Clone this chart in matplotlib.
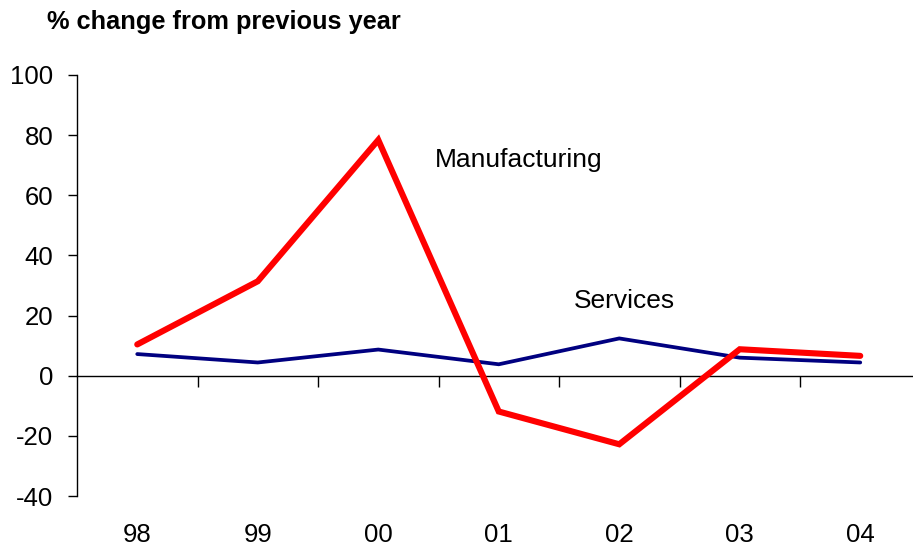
import matplotlib
matplotlib.use("Agg")
import matplotlib.pyplot as plt

plt.rcParams["font.family"] = ["Liberation Sans", "DejaVu Sans"]
plt.rcParams["axes.unicode_minus"] = False

years = ["98", "99", "00", "01", "02", "03", "04"]
manufacturing = [10.4, 31.4, 78.4, -11.9, -22.8, 8.8, 6.6]
services = [7.2, 4.4, 8.7, 3.8, 12.4, 6.0, 4.4]

fig = plt.figure(figsize=(9.13, 5.48), dpi=100)
ax = fig.add_axes([77 / 913, 52 / 548, 843.5 / 913, 421 / 548])

x = list(range(len(years)))
ax.plot(x, manufacturing, color="#ff0000", lw=4.4, solid_capstyle="round",
        solid_joinstyle="miter", zorder=3)
ax.plot(x, services, color="#000080", lw=2.7, solid_capstyle="round",
        solid_joinstyle="miter", zorder=2)

ax.set_xlim(-0.5, len(years) - 0.5)
ax.set_ylim(-40, 100)
ax.set_yticks(range(-40, 101, 20))
ax.tick_params(axis="y", direction="out", length=6.5, width=1, labelsize=18.5,
               pad=10.5)

for s in ["top", "right"]:
    ax.spines[s].set_visible(False)
ax.spines["bottom"].set_position(("data", 0))
ax.spines["left"].set_linewidth(1)
ax.spines["bottom"].set_linewidth(1)

ax.set_xticks(x)
ax.set_xticklabels([])
ax.tick_params(axis="x", which="major", length=0)
ax.set_xticks([i + 0.5 for i in x[:-1]], minor=True)
ax.tick_params(axis="x", which="minor", direction="out", length=8, width=1)

sec = ax.secondary_xaxis("bottom")
sec.set_xticks(x)
sec.set_xticklabels(years)
sec.tick_params(length=0, labelsize=18.5, pad=19.5)
sec.spines["bottom"].set_visible(False)

ax.text(2.47, 71.7, "Manufacturing", fontsize=19, va="center", ha="left")
ax.text(3.62, 24.7, "Services", fontsize=19, va="center", ha="left")

fig.text(47 / 913, 1 - 22 / 548, "% change from previous year", fontsize=18.3,
         fontweight="bold", va="center", ha="left")

fig.savefig("out.png", dpi=100)
